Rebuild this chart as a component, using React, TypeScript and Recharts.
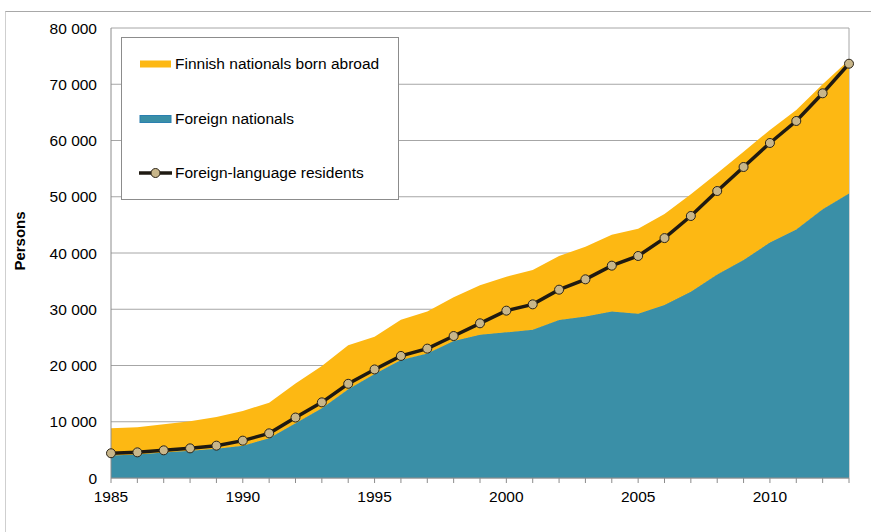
import { Area, CartesianGrid, ComposedChart, Legend, Line, XAxis, YAxis } from "recharts";

const years = [
  1985, 1986, 1987, 1988, 1989, 1990, 1991, 1992, 1993, 1994, 1995, 1996, 1997, 1998, 1999,
  2000, 2001, 2002, 2003, 2004, 2005, 2006, 2007, 2008, 2009, 2010, 2011, 2012, 2013,
];

const foreignNationals = [
  4000, 4200, 4550, 4850, 5200, 5750, 7050, 9750, 12400, 15800, 18500, 21000, 22150, 24350, 25450,
  25900, 26350, 28100, 28700, 29600, 29200, 30750, 33100, 36200, 38750, 41850, 44200, 47800, 50600,
];

const finnishBornAbroad = [
  4830, 4810, 5000, 5230, 5640, 6160, 6340, 7050, 7500, 7800, 6600, 7150, 7450, 7770, 8800,
  9890, 10630, 11370, 12420, 13660, 15120, 16200, 17340, 17970, 19260, 20020, 21220, 22190, 23700,
];

const foreignLanguage = [
  4400, 4560, 4920, 5270, 5750, 6640, 7940, 10750, 13450, 16750, 19300, 21700, 23000, 25240, 27500,
  29750, 30870, 33480, 35320, 37750, 39470, 42650, 46580, 51020, 55290, 59560, 63470, 68390, 73650,
];

const yTicks = [0, 10000, 20000, 30000, 40000, 50000, 60000, 70000, 80000];

const YELLOW = "#fdb813";
const BLUE = "#3a8fa7";
const LINE = "#1f1a12";
const DOT = "#c8b68a";
const FONT = "'Liberation Sans', Arial, sans-serif";
const FS = 15.5;

const data = years.map((year, i) => ({
  year,
  foreign: foreignNationals[i],
  finnish: finnishBornAbroad[i],
  lang: foreignLanguage[i],
}));

const legendItems = [
  { name: "Finnish nationals born abroad", kind: "area", color: YELLOW },
  { name: "Foreign nationals", kind: "area", color: BLUE },
  { name: "Foreign-language residents", kind: "line", color: LINE },
];

function formatThousands(v: number) {
  if (v === 0) return "0";
  return `${v / 1000} 000`;
}

function renderLegend() {
  return (
    <div
      style={{
        width: 278,
        height: 163,
        boxSizing: "border-box",
        border: "1px solid #8c8c8c",
        background: "#fff",
        position: "relative",
        fontFamily: FONT,
        fontSize: FS,
        color: "#000",
      }}
    >
      {legendItems.map((item, i) => (
        <div
          key={item.name}
          style={{
            position: "absolute",
            left: 17,
            top: 26 + i * 54.5 - 10,
            height: 20,
            display: "flex",
            alignItems: "center",
            whiteSpace: "nowrap",
          }}
        >
          <svg width={34} height={20} style={{ display: "block" }}>
            {item.kind === "area" ? (
              <rect x={1} y={6.5} width={31} height={7} fill={item.color} stroke={item.color === BLUE ? "#2a7fb0" : "none"} />
            ) : (
              <>
                <line x1={0} y1={10} x2={33} y2={10} stroke={LINE} strokeWidth={3.5} />
                <circle cx={16.5} cy={10} r={4.5} fill={DOT} stroke="#2b2418" strokeWidth={1} />
              </>
            )}
          </svg>
          <span style={{ marginLeft: 2 }}>{item.name}</span>
        </div>
      ))}
    </div>
  );
}

function XTick(props: any) {
  const { x, y, payload } = props;
  if (payload.value % 5 !== 0) return <g />;
  return (
    <text x={x} y={y + 11} textAnchor="middle" fill="#000" fontSize={FS} fontFamily={FONT}>
      {payload.value}
    </text>
  );
}

export default function App() {
  return (
    <div
      style={{
        position: "absolute",
        left: 0,
        top: 0,
        width: 871,
        height: 532,
        overflow: "hidden",
        background: "#fff",
      }}
    >
      <div
        style={{
          position: "absolute",
          left: 5,
          top: 11,
          width: 900,
          height: 560,
          borderTop: "1px solid #a8a8a8",
          borderLeft: "1px solid #cfcfcf",
        }}
      />
      {/* y axis title */}
      <div
        style={{
          position: "absolute",
          left: 18.5,
          top: 241,
          transform: "translate(-50%, -50%) rotate(-90deg)",
          fontFamily: FONT,
          fontSize: 15,
          fontWeight: "bold",
          lineHeight: 1,
          whiteSpace: "nowrap",
          color: "#000",
        }}
      >
        Persons
      </div>
      <ComposedChart
        width={871}
        height={532}
        data={data}
        margin={{ top: 28, right: 22, bottom: 0, left: 0 }}
        style={{ fontFamily: FONT }}
      >
        <CartesianGrid stroke="#a6a6a6" verticalPoints={[849]} />
        <XAxis
          dataKey="year"
          type="number"
          domain={[1985, 2013]}
          ticks={years}
          interval={0}
          height={54}
          tickSize={5}
          tickMargin={8}
          tickLine={{ stroke: "#8c8c8c" }}
          axisLine={{ stroke: "#8c8c8c" }}
          tick={<XTick />}
        />
        <YAxis
          type="number"
          domain={[0, 80000]}
          ticks={yTicks}
          interval={0}
          width={111}
          tickLine={false}
          tickSize={6}
          tickMargin={8}
          axisLine={{ stroke: "#8c8c8c" }}
          tickFormatter={formatThousands}
          tick={{ fill: "#000", fontSize: FS, fontFamily: FONT }}
        />
        <Legend
          layout="vertical"
          align="center"
          verticalAlign="middle"
          wrapperStyle={{ left: 121, top: 37, width: 278, height: 163 }}
          content={renderLegend}
        />
        <Area
          type="linear"
          dataKey="foreign"
          name="Foreign nationals"
          stackId="a"
          fill={BLUE}
          fillOpacity={1}
          stroke={BLUE}
          strokeWidth={1}
          isAnimationActive={false}
        />
        <Area
          type="linear"
          dataKey="finnish"
          name="Finnish nationals born abroad"
          stackId="a"
          fill={YELLOW}
          fillOpacity={1}
          stroke="none"
          isAnimationActive={false}
        />
        <Line
          type="linear"
          dataKey="lang"
          name="Foreign-language residents"
          stroke={LINE}
          strokeWidth={3.5}
          dot={{ r: 4.5, fill: DOT, stroke: "#2b2418", strokeWidth: 1 }}
          activeDot={false}
          isAnimationActive={false}
        />
      </ComposedChart>
    </div>
  );
}
